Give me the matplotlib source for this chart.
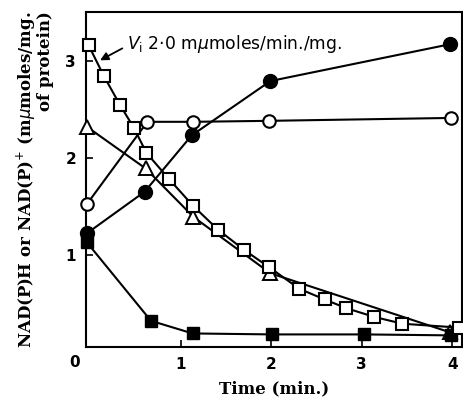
import matplotlib.pyplot as plt

# data (time in min, NAD(P)H or NAD(P)+ in mumoles/mg)
sq_open_t = [-0.02, 0.15, 0.33, 0.48, 0.62, 0.87, 1.14, 1.41, 1.70, 1.98, 2.31, 2.59, 2.83, 3.14, 3.45, 4.08]
sq_open_v = [3.16, 2.84, 2.54, 2.31, 2.05, 1.78, 1.50, 1.26, 1.05, 0.87, 0.65, 0.54, 0.45, 0.36, 0.29, 0.25]

tri_t = [-0.04, 0.61, 1.14, 1.99, 3.98]
tri_v = [2.32, 1.89, 1.39, 0.81, 0.20]

circ_open_t = [-0.04, 0.63, 1.13, 1.97, 3.99]
circ_open_v = [1.52, 2.37, 2.37, 2.38, 2.41]

circ_fill_t = [-0.04, 0.60, 1.12, 1.99, 3.98]
circ_fill_v = [1.22, 1.65, 2.23, 2.79, 3.17]

sq_fill_t = [-0.04, 0.67, 1.13, 2.01, 3.03, 3.99]
sq_fill_v = [1.13, 0.32, 0.19, 0.18, 0.18, 0.17]

fig = plt.figure(figsize=(4.64, 4.04), dpi=100)
ax = fig.add_axes([0.185, 0.141, 0.811, 0.829])

lw = 1.5
ms = 9
ax.plot(tri_t, tri_v, '-^', color='black', lw=lw, ms=ms + 1, mfc='white', mec='black', mew=1.4, zorder=3, clip_on=False)
ax.plot(sq_open_t, sq_open_v, '-s', color='black', lw=lw, ms=ms, mfc='white', mec='black', mew=1.5, zorder=4, clip_on=False)
ax.plot(circ_open_t, circ_open_v, '-o', color='black', lw=lw, ms=ms, mfc='white', mec='black', mew=1.5, zorder=3, clip_on=False)
ax.plot(sq_fill_t, sq_fill_v, '-s', color='black', lw=lw, ms=ms, mfc='black', mec='black', zorder=3, clip_on=False)
ax.plot(circ_fill_t, circ_fill_v, '-o', color='black', lw=lw, ms=ms + 1, mfc='black', mec='black', zorder=5, clip_on=False)

ax.set_xlim(-0.05, 4.11)
ax.set_ylim(0.05, 3.5)
ax.set_xticks([1, 2, 3, 4])
ax.set_yticks([1, 2, 3])
ax.tick_params(direction='in', length=5, width=1.2, labelsize=11, pad=7)
for lab in ax.get_xticklabels() + ax.get_yticklabels():
    lab.set_fontweight('bold')
for sp in ax.spines.values():
    sp.set_linewidth(1.5)

# the single "0" at the corner
ax.text(-0.17, -0.03, '0', transform=ax.transData, fontsize=11, fontweight='bold',
        ha='center', va='top', clip_on=False)

ax.set_xlabel('Time (min.)', family='DejaVu Serif', fontweight='bold', fontsize=12, labelpad=6)
ax.set_ylabel('NAD(P)H or NAD(P)$^{+}$ (m$\\mu$moles/mg.\nof protein)', family='DejaVu Serif',
              fontweight='bold', fontsize=12, multialignment='right', labelpad=8, linespacing=0.95)

# initial velocity note
ax.annotate('', xy=(0.08, 2.99), xytext=(0.38, 3.14),
            arrowprops=dict(arrowstyle='-|>', color='black', lw=1.3, mutation_scale=12))
ax.text(0.41, 3.17, '$V_{\\rm i}$ 2·0 m$\\mu$moles/min./mg.', fontsize=12.3, va='center', ha='left')

plt.savefig('out.png', dpi=100)
